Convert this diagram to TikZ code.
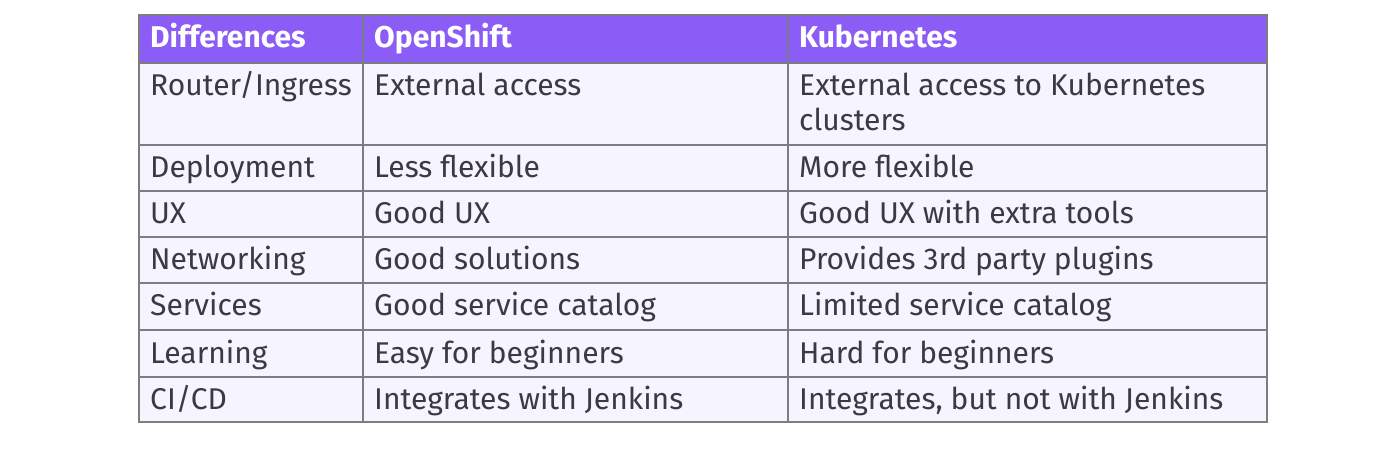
\documentclass[tikz,border=0pt]{standalone}
\usepackage{fontspec}
\setmainfont{Fira Sans}
\usetikzlibrary{positioning}
\definecolor{headpurple}{HTML}{8B5CF6}
\definecolor{cellfill}{HTML}{F6F5FD}
\definecolor{gridgrey}{HTML}{7C7C84}
\definecolor{textgrey}{HTML}{3A3A44}
\tikzstyle{celltext}=[anchor=base west,inner sep=0pt,text=textgrey,font=\fontsize{30}{35}\selectfont]
\tikzstyle{headtext}=[anchor=base west,inner sep=0pt,text=white,font=\fontsize{30}{35}\selectfont\bfseries]
\tikzstyle{gridline}=[draw=gridgrey,line width=1.6pt]

\begin{document}
\begin{tikzpicture}[x=1pt,y=-1pt]
    \useasboundingbox (0,0) rectangle (1390,462);
    \fill [cellfill] (139,63) rectangle (1267,422);
    \fill [headpurple] (139,15) rectangle (1267,63);
    % grid
    \foreach \y in {63,145,191,237,283,330,377}
      \draw [gridline] (139,\y) -- (1267,\y);
    \foreach \x in {363,788}
      \draw [gridline] (\x,15) -- (\x,422);
    \draw [gridline] (139,15) rectangle (1267,422);
    % header
    \node [headtext] (hdiff) at (150,48) {Differences};
    \node [headtext] (hos) at (374,48) {OpenShift};
    \node [headtext] (hkube) at (799,48) {Kubernetes};
    % rows
    \foreach \y/\what/\os/\kube [count=\i] in {
        96/{Router/Ingress}/{External access}/{External access to Kubernetes},
        178/Deployment/{Less flexible}/{More flexible},
        224/UX/{Good UX}/{Good UX with extra tools},
        270/Networking/{Good solutions}/{Provides 3rd party plugins},
        316/Services/{Good service catalog}/{Limited service catalog},
        363/Learning/{Easy for beginners}/{Hard for beginners},
        409/{CI/CD}/{Integrates with Jenkins}/{Integrates, but not with Jenkins}} {
      \node [celltext] (diff\i) at (150,\y) {\what};
      \node [celltext] (os\i) at (374,\y) {\os};
      \node [celltext] (kube\i) at (799,\y) {\kube};
    }
    \node [celltext] (kube1b) at (799,131) {clusters};
\end{tikzpicture}
\end{document}
